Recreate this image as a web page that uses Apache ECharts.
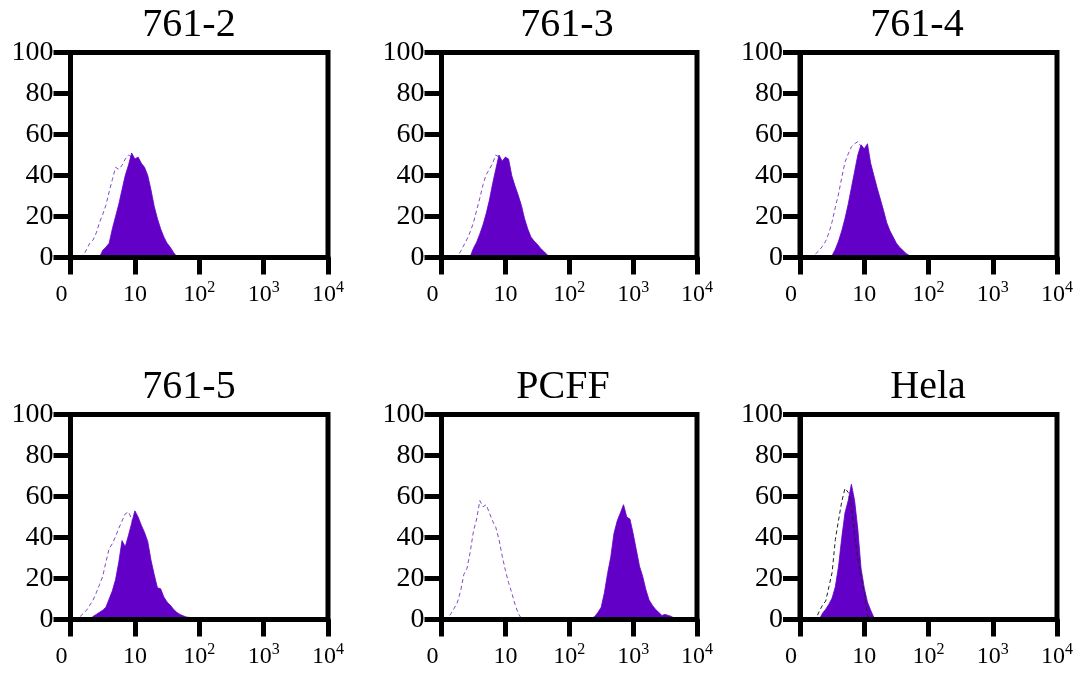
<!DOCTYPE html>
<html>
<head>
<meta charset="utf-8">
<script src="https://cdn.jsdelivr.net/npm/echarts@6/dist/echarts.min.js"></script>
<style>
html,body{margin:0;padding:0;background:#fff;}
#chart{width:1080px;height:676px;}
</style>
</head>
<body>
<div id="chart"></div>
<script>
// ---------- DATA ----------
// x positions are in decades of the log fluorescence axis (0 -> "0", 1 -> 10, 2 -> 10^2 ...)
const BIN = 0.05;
const panelTitles = ['761-2', '761-3', '761-4', '761-5', 'PCFF', 'Hela'];
const xTickBase = ['0', '10', '10', '10', '10'];
const xTickExp  = ['', '', '2', '3', '4'];

// 761-2
const s7612From = 0.45;
const s7612 = [0, 3.5, 5, 7, 14, 20, 26, 33, 40, 45, 51, 48, 49, 46, 44, 40, 33, 25, 19, 14, 10, 7, 5, 2.5, 0.5, 0];
const c7612From = 0.15;
const c7612 = [0, 1, 4, 7, 8.5, 12, 17, 21, 25.5, 32, 38, 44, 43, 45, 48, 50, 49, 45, 40, 34, 27, 21, 15, 10, 6, 3, 1, 0];

// 761-3
const s7613From = 0.40;
const s7613 = [0, 0.5, 4.5, 7.5, 11.5, 16, 21.5, 28, 36, 43, 50, 47, 49, 48, 40, 35, 30.5, 25.5, 19, 14, 10, 8, 6.5, 4.5, 3, 1.5, 0];
const c7613From = 0.20;
const c7613 = [0, 0.5, 3, 6, 9, 12.5, 17, 23, 29, 35.5, 40.5, 43, 46, 50, 49, 45, 41, 35, 28, 21, 15, 10, 6, 3, 1, 0];

// 761-4
const s7614From = 0.45;
const s7614 = [0, 1, 4, 8, 13, 19, 26, 34, 42, 50, 55, 53, 55.5, 46, 40, 34, 28.5, 23, 17, 13, 10, 7, 5, 3.5, 2, 1, 0.5, 0.5, 0.3, 0.3, 0.2, 0];
const c7614From = 0.15;
const c7614 = [0, 0.5, 2, 3.5, 5.5, 8, 12, 17.5, 24.5, 31, 39, 46.5, 50.5, 54, 55.5, 56.5, 54, 50, 44, 37, 29, 22, 16, 11, 7, 4, 2, 0.5, 0];

// 761-5
const s7615From = 0.30;
const s7615 = [0, 1.5, 2.5, 3.5, 4.5, 6, 10, 14, 19.5, 28, 38.5, 35.5, 41, 47, 53, 50, 46, 42.5, 38, 29, 22, 15.5, 15, 11, 8.5, 7, 5, 3.5, 2.5, 1.8, 1.2, 1, 0.8, 0.5, 0.3, 0.3, 0.2, 0.5, 0.2, 0.2, 0.2, 0.1, 0.1, 0.1, 0.1, 0.5, 0];
const c7615From = 0.05;
const c7615 = [0, 0.5, 1.5, 3, 4.5, 7, 9.5, 13, 17, 21, 28, 34.5, 37, 40.5, 44.5, 48, 51.5, 52.5, 49, 44, 38, 31, 24, 17, 11, 7, 4, 2, 0.5, 0];

// PCFF
const sPcffFrom = 2.30;
const sPcff = [0, 0.5, 1.5, 3.5, 6, 13, 22.5, 30.5, 42, 48, 52, 56, 50, 49, 42, 34, 26, 21, 14.5, 9.5, 7, 5, 3.5, 2, 2.5, 2, 1.5, 0.5, 0];
const cPcffFrom = 0.05;
const cPcff = [0, 0.5, 3, 5.5, 8.5, 14, 22, 25, 33, 43, 49, 58, 55, 56, 52, 48, 45, 39, 31, 24, 18, 13, 7.5, 3, 0.5, 0];

// Hela
const sHelaFrom = 0.30;
const sHela = [0, 3, 5, 7.5, 10.5, 16, 26, 40, 52, 58, 66, 58, 44, 25, 15.5, 8.5, 4.5, 1, 0];
const cHelaFrom = 0.20;
const cHela = [0, 0.5, 4, 7, 9, 16, 23, 39, 48.5, 57.5, 64, 62, 56, 41, 30, 21, 13, 2, 0];

const sampleFrom = [s7612From, s7613From, s7614From, s7615From, sPcffFrom, sHelaFrom];
const sampleVals = [s7612, s7613, s7614, s7615, sPcff, sHela];
const controlFrom = [c7612From, c7613From, c7614From, c7615From, cPcffFrom, cHelaFrom];
const controlVals = [c7612, c7613, c7614, c7615, cPcff, cHela];

// ---------- LAYOUT / STYLE ----------
const panelBoxes = [
  {left: 70.5,  top: 52.5,  width: 257.5, height: 205, titleX: 189},
  {left: 441.5, top: 52.5,  width: 255.5, height: 205, titleX: 567},
  {left: 800,   top: 52.5,  width: 257,   height: 205, titleX: 917},
  {left: 70.5,  top: 414.5, width: 257.5, height: 205, titleX: 189},
  {left: 441.5, top: 414.5, width: 255.5, height: 205, titleX: 563},
  {left: 800,   top: 414.5, width: 257,   height: 205, titleX: 928}
];
const controlColors = ['#7f4cc4', '#7f4cc4', '#7f4cc4', '#7f4cc4', '#7f4cc4', '#222222'];
const controlOnTop = [false, false, false, false, true, true];
const FILL = '#6200c8';
const SERIF = '"Liberation Serif", "Times New Roman", "DejaVu Serif", serif';

function toPoints(from, vals) {
  return vals.map((v, i) => [Math.round((from + i * BIN) * 1000) / 1000, v]);
}

const grids = [], xAxes = [], yAxes = [], series = [], titles = [];
panelBoxes.forEach((b, i) => {
  grids.push({
    left: b.left, top: b.top, width: b.width, height: b.height,
    show: true, borderColor: '#000', borderWidth: 5, backgroundColor: 'transparent', z: 10
  });
  titles.push({
    text: panelTitles[i], left: b.titleX, top: b.top - 47, textAlign: 'center', padding: 0,
    textStyle: {fontFamily: SERIF, fontSize: 40, fontWeight: 'normal', color: '#000'}
  });
  xAxes.push({
    gridIndex: i, type: 'value', min: 0, max: 4, interval: 1, z: 10,
    axisLine: {show: true, lineStyle: {color: '#000', width: 5}},
    axisTick: {show: true, length: 17, lineStyle: {color: '#000', width: 5}},
    splitLine: {show: false},
    axisLabel: {
      margin: 22, color: '#000',
      formatter: function (v) {
        const k = Math.round(v);
        if (k === 0) return '{z|' + xTickBase[0] + '}';
        if (xTickExp[k] === '') return '{b|' + xTickBase[k] + '}';
        return '{b|' + xTickBase[k] + '}{s|' + xTickExp[k] + '}';
      },
      rich: {
        z: {fontFamily: SERIF, fontSize: 24, lineHeight: 30, color: '#000', padding: [0, 18, 0, 0]},
        b: {fontFamily: SERIF, fontSize: 24, lineHeight: 30, color: '#000'},
        s: {fontFamily: SERIF, fontSize: 16, lineHeight: 16, color: '#000', verticalAlign: 'top'}
      }
    }
  });
  yAxes.push({
    gridIndex: i, type: 'value', min: 0, max: 100, interval: 20, z: 10,
    axisLine: {show: true, lineStyle: {color: '#000', width: 5}},
    axisTick: {show: true, length: 17, lineStyle: {color: '#000', width: 5}},
    splitLine: {show: false},
    axisLabel: {margin: 17, color: '#000', fontFamily: SERIF, fontSize: 28, padding: [8, 0, 0, 0]}
  });
  series.push({
    type: 'line', xAxisIndex: i, yAxisIndex: i, data: toPoints(sampleFrom[i], sampleVals[i]),
    symbol: 'none', smooth: false, z: 2,
    lineStyle: {color: FILL, width: 0.8}, areaStyle: {color: FILL, opacity: 1}
  });
  series.push({
    type: 'line', xAxisIndex: i, yAxisIndex: i, data: toPoints(controlFrom[i], controlVals[i]),
    symbol: 'none', smooth: false, z: controlOnTop[i] ? 3 : 1,
    lineStyle: {color: controlColors[i], width: 1, type: [4, 3]}
  });
});

const chart = echarts.init(document.getElementById('chart'), null, {renderer: 'canvas'});
chart.setOption({
  animation: false,
  backgroundColor: '#fff',
  title: titles,
  grid: grids,
  xAxis: xAxes,
  yAxis: yAxes,
  series: series
});
</script>
</body>
</html>
